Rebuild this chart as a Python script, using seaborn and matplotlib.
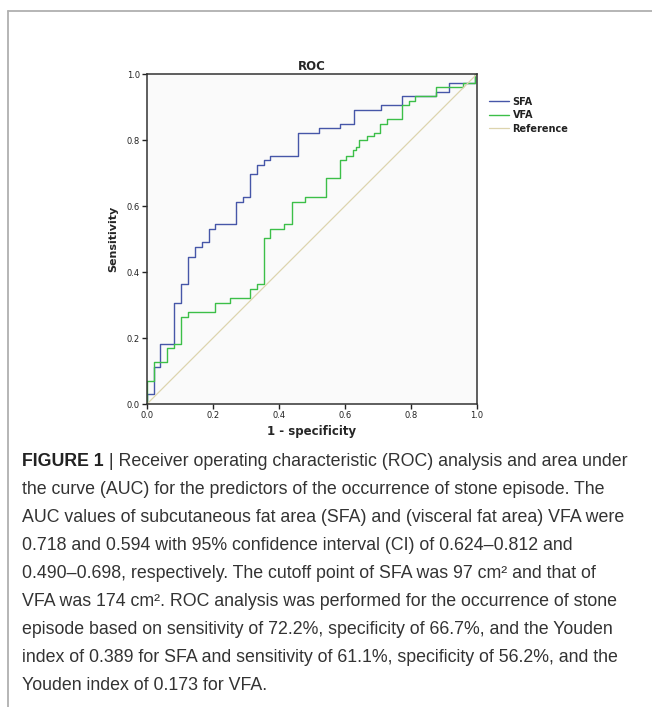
import matplotlib
matplotlib.use("Agg")
import matplotlib.pyplot as plt
import seaborn as sns
import pandas as pd
from matplotlib.lines import Line2D

# ROC curve vertices (1 - specificity, sensitivity)
sfa_fpr = [0.0, 0.0, 0.020, 0.040, 0.083, 0.103, 0.124, 0.144, 0.167, 0.187, 0.207,
           0.271, 0.290, 0.313, 0.333, 0.356, 0.374, 0.458, 0.520, 0.584, 0.626,
           0.710, 0.772, 0.875, 0.916, 0.995, 1.0]
sfa_tpr = [0.0, 0.029, 0.111, 0.182, 0.307, 0.364, 0.446, 0.477, 0.490, 0.529, 0.544,
           0.612, 0.628, 0.696, 0.723, 0.739, 0.752, 0.822, 0.835, 0.850, 0.891,
           0.906, 0.933, 0.946, 0.974, 1.0, 1.0]
vfa_fpr = [0.0, 0.0, 0.020, 0.061, 0.083, 0.103, 0.124, 0.206, 0.250, 0.313, 0.333,
           0.356, 0.374, 0.416, 0.439, 0.480, 0.543, 0.584, 0.603, 0.624, 0.633,
           0.643, 0.666, 0.687, 0.707, 0.726, 0.772, 0.793, 0.813, 0.875, 0.959,
           0.995, 1.0]
vfa_tpr = [0.0, 0.071, 0.126, 0.169, 0.182, 0.265, 0.280, 0.307, 0.320, 0.347, 0.364,
           0.502, 0.529, 0.544, 0.613, 0.628, 0.684, 0.739, 0.752, 0.770, 0.780,
           0.800, 0.812, 0.822, 0.848, 0.863, 0.906, 0.919, 0.933, 0.962, 0.974,
           1.0, 1.0]
ref_x = [0.0, 1.0]
ref_y = [0.0, 1.0]

ticks = [0.0, 0.2, 0.4, 0.6, 0.8, 1.0]
tick_labels = ["0.0", "0.2", "0.4", "0.6", "0.8", "1.0"]

caption_head = "FIGURE 1"
caption_lines = [
    " | Receiver operating characteristic (ROC) analysis and area under",
    "the curve (AUC) for the predictors of the occurrence of stone episode. The",
    "AUC values of subcutaneous fat area (SFA) and (visceral fat area) VFA were",
    "0.718 and 0.594 with 95% confidence interval (CI) of 0.624\u20130.812 and",
    "0.490\u20130.698, respectively. The cutoff point of SFA was 97 cm\u00b2 and that of",
    "VFA was 174 cm\u00b2. ROC analysis was performed for the occurrence of stone",
    "episode based on sensitivity of 72.2%, specificity of 66.7%, and the Youden",
    "index of 0.389 for SFA and sensitivity of 61.1%, specificity of 56.2%, and the",
    "Youden index of 0.173 for VFA.",
]

sns.set_style("ticks")
plt.rcParams['font.family'] = ['DejaVu Sans']

W, H = 652, 707
fig = plt.figure(figsize=(W / 100, H / 100), dpi=100)
ax = fig.add_axes([147 / W, 1 - 404 / H, 330 / W, 330 / H])
ax.set_facecolor('#fafafa')

sfa = pd.DataFrame({'fpr': sfa_fpr, 'tpr': sfa_tpr})
vfa = pd.DataFrame({'fpr': vfa_fpr, 'tpr': vfa_tpr})

sns.lineplot(data=sfa, x='fpr', y='tpr', estimator=None, sort=False, drawstyle='steps-post',
             color='#4656a8', lw=1.0, label='SFA', ax=ax)
sns.lineplot(data=vfa, x='fpr', y='tpr', estimator=None, sort=False, drawstyle='steps-post',
             color='#3cbf48', lw=1.0, label='VFA', ax=ax)
sns.lineplot(x=ref_x, y=ref_y, estimator=None, color='#ddd4ae', lw=0.9, label='Reference', ax=ax)

ax.set_xlim(0, 1)
ax.set_ylim(0, 1)
ax.set_xticks(ticks)
ax.set_xticklabels(tick_labels)
ax.set_yticks(ticks)
ax.set_yticklabels(tick_labels)
ax.tick_params(direction='out', length=3.5, width=1.0, color='#222222', labelsize=6,
               labelcolor='#222222', pad=1.5)
for s in ax.spines.values():
    s.set_color('#333333')
    s.set_linewidth(1.1)

ax.set_title('ROC', fontsize=8.5, fontweight='bold', pad=3)
ax.set_xlabel('1 - specificity', fontsize=8.5, fontweight='bold', labelpad=4)
ax.set_ylabel('Sensitivity', fontsize=8, fontweight='bold', labelpad=6)

ax.legend(loc='upper left', bbox_to_anchor=(1.025, 0.943), frameon=False, fontsize=7,
          handlelength=2.0, handletextpad=0.4, labelspacing=0.35, borderaxespad=0)
for t in ax.get_legend().get_texts():
    t.set_fontweight('bold')
    t.set_color('#222222')

# page frame lines
fig.add_artist(Line2D([8 / W, 1], [1 - 11 / H, 1 - 11 / H], transform=fig.transFigure,
                      color='#b0b0b0', lw=1.3))
fig.add_artist(Line2D([8 / W, 8 / W], [1 - 11 / H, 0], transform=fig.transFigure,
                      color='#b0b0b0', lw=1.3))

# caption
cap_font = ['Liberation Sans', 'DejaVu Sans']
cap_size = 12.8
x0 = 22 / W
y_first = 461
step = 28.0
renderer = fig.canvas.get_renderer()
head = fig.text(x0, 1 - y_first / H, caption_head, fontsize=cap_size, fontweight='bold',
                family=cap_font, color='#222222', va='center')
bb = head.get_window_extent(renderer)
fig.text(bb.x1 / W, 1 - y_first / H, caption_lines[0], fontsize=cap_size, family=cap_font,
         color='#333333', va='center')
for i, line in enumerate(caption_lines[1:], start=1):
    fig.text(x0, 1 - (y_first + i * step) / H, line, fontsize=cap_size, family=cap_font,
             color='#333333', va='center')

fig.savefig('out.png', dpi=100)
